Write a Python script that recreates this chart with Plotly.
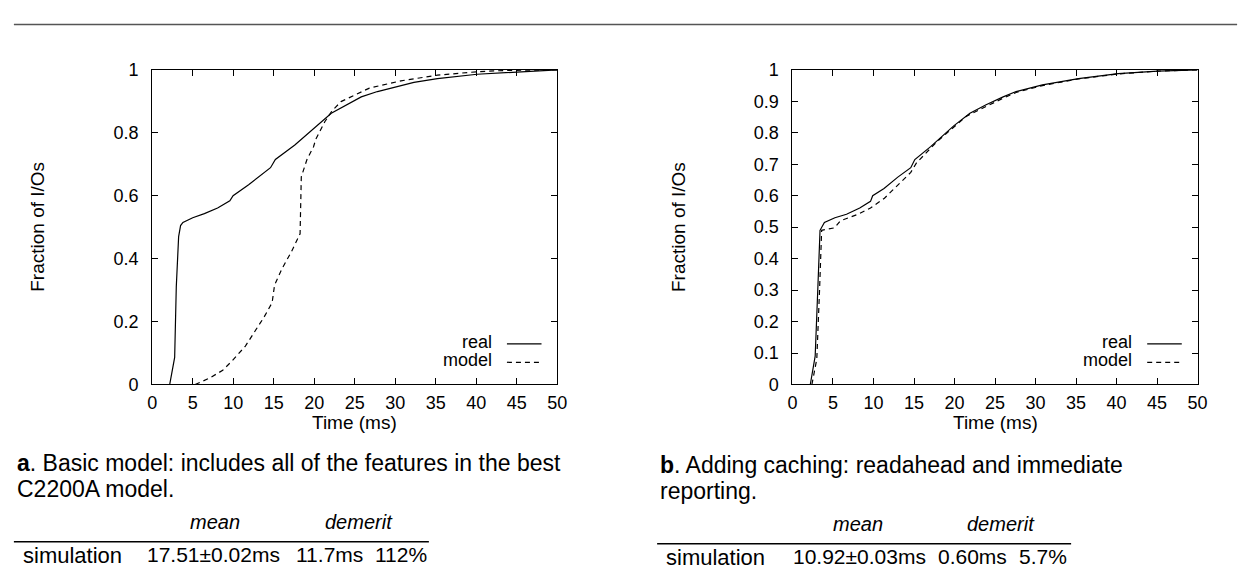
import plotly.graph_objects as go

W, H = 1256, 574

# ---- data ----
a_real_x = [2.16, 2.77, 2.97, 3.26, 3.5, 3.79, 5.0, 6.44, 8.07, 9.58, 9.98, 11.9, 14.6, 15.2, 17.6, 20.1, 22.1, 25.8, 27.8, 32.3, 35.2, 40.1, 45.1, 50]
a_real_y = [0, 0.086, 0.31, 0.47, 0.505, 0.515, 0.53, 0.543, 0.561, 0.584, 0.60, 0.635, 0.689, 0.715, 0.761, 0.817, 0.862, 0.914, 0.931, 0.96, 0.972, 0.986, 0.994, 1.0]
a_model_x = [5.3, 7.05, 8.7, 9.9, 11.5, 12.55, 13.8, 14.8, 15.1, 16.0, 17.2, 18.25, 18.4, 19.1, 19.9, 20.2, 21.3, 22.2, 23.3, 26.8, 30.7, 35.2, 40.1, 43.5, 50]
a_model_y = [0, 0.02, 0.045, 0.076, 0.122, 0.163, 0.214, 0.26, 0.316, 0.367, 0.423, 0.479, 0.66, 0.715, 0.755, 0.78, 0.835, 0.87, 0.899, 0.942, 0.965, 0.983, 0.994, 0.998, 1.0]

b_real_x = [2.2, 2.8, 3.13, 3.4, 3.94, 5.24, 6.67, 8.3, 9.63, 9.9, 11.3, 13.0, 14.6, 15.1, 17.05, 19.9, 21.9, 23.9, 26.0, 27.6, 30.85, 35.3, 40.2, 45.1, 50]
b_real_y = [0, 0.09, 0.306, 0.49, 0.515, 0.53, 0.541, 0.561, 0.582, 0.60, 0.623, 0.659, 0.689, 0.715, 0.756, 0.822, 0.862, 0.889, 0.914, 0.931, 0.952, 0.972, 0.988, 0.996, 1.0]
b_model_x = [2.4, 3.0, 3.35, 3.6, 5.2, 5.9, 8.1, 9.63, 11.35, 14.6, 15.3, 17.8, 21.5, 24.0, 26.0, 27.6, 30.85, 35.3, 40.2, 45.1, 50]
b_model_y = [0, 0.081, 0.306, 0.49, 0.498, 0.52, 0.541, 0.561, 0.592, 0.674, 0.704, 0.771, 0.853, 0.885, 0.91, 0.928, 0.95, 0.971, 0.987, 0.996, 1.0]

x_ticks = [0, 5, 10, 15, 20, 25, 30, 35, 40, 45, 50]
a_y_ticks = [0, 0.2, 0.4, 0.6, 0.8, 1]
a_y_labels = ["0", "0.2", "0.4", "0.6", "0.8", "1"]
b_y_ticks = [0, 0.1, 0.2, 0.3, 0.4, 0.5, 0.6, 0.7, 0.8, 0.9, 1]
b_y_labels = ["0", "0.1", "0.2", "0.3", "0.4", "0.5", "0.6", "0.7", "0.8", "0.9", "1"]

series_names = ["real", "model"]
x_title = "Time (ms)"
y_title = "Fraction of I/Os"
caption_a = ["<b>a</b>. Basic model: includes all of the features in the best", "C2200A model."]
caption_b = ["<b>b</b>. Adding caching: readahead and immediate", "reporting."]
table_headers = ["mean", "demerit"]
row_label = "simulation"
row_a = ["17.51±0.02ms", "11.7ms", "112%"]
row_b = ["10.92±0.03ms", "0.60ms", "5.7%"]

FONT = "Liberation Sans, Arial, sans-serif"
DASH = "5px,4px"


def px(x):
    return x / W


def py(y):
    return 1 - y / H


fig = go.Figure()
fig.add_trace(go.Scatter(x=a_real_x, y=a_real_y, mode="lines", line=dict(color="black", width=1.2),
                         xaxis="x", yaxis="y", showlegend=False, name=series_names[0]))
fig.add_trace(go.Scatter(x=a_model_x, y=a_model_y, mode="lines", line=dict(color="black", width=1.2, dash=DASH),
                         xaxis="x", yaxis="y", showlegend=False, name=series_names[1]))
fig.add_trace(go.Scatter(x=b_real_x, y=b_real_y, mode="lines", line=dict(color="black", width=1.2),
                         xaxis="x2", yaxis="y2", showlegend=False, name=series_names[0]))
fig.add_trace(go.Scatter(x=b_model_x, y=b_model_y, mode="lines", line=dict(color="black", width=1.2, dash=DASH),
                         xaxis="x2", yaxis="y2", showlegend=False, name=series_names[1]))

axis_common = dict(showgrid=False, zeroline=False, showline=True, linecolor="black", linewidth=1,
                   ticks="inside", ticklen=6, tickcolor="black", tickwidth=1, mirror="allticks",
                   tickfont=dict(family=FONT, size=18, color="black"))

left_dom = [px(149), px(559)]
right_dom = [px(797), px(1207)]
y_dom = [py(388), py(62)]

fig.update_layout(
    width=W, height=H,
    margin=dict(l=0, r=0, t=0, b=0),
    paper_bgcolor="white", plot_bgcolor="white",
    font=dict(family=FONT, color="black"),
    xaxis=dict(domain=left_dom, range=[0, 50], tickvals=x_ticks, anchor="y", ticklabelstandoff=2, **axis_common),
    yaxis=dict(domain=y_dom, range=[0, 1], tickvals=a_y_ticks, ticktext=a_y_labels, anchor="x", ticklabelstandoff=9, **axis_common),
    xaxis2=dict(domain=right_dom, range=[0, 50], tickvals=x_ticks, anchor="y2", ticklabelstandoff=2, **axis_common),
    yaxis2=dict(domain=y_dom, range=[0, 1], tickvals=b_y_ticks, ticktext=b_y_labels, anchor="x2", ticklabelstandoff=9, **axis_common),
)

ann = []
shapes = []


def text(t, x, y, size, anchor="left", angle=0):
    ann.append(dict(text=t, x=px(x), y=py(y), xref="paper", yref="paper", showarrow=False,
                    font=dict(size=size), xanchor=anchor, yanchor="middle", textangle=angle))


# top rule
shapes.append(dict(type="line", xref="paper", yref="paper", x0=px(9), x1=px(1247), y0=py(15), y1=py(15),
                   line=dict(color="#555555", width=1.5)))

for (dom_l, dom_r) in [(149, 559), (797, 1207)]:
    cx = (dom_l + dom_r) / 2
    text(x_title, cx, 427, 19, "center")
    text(y_title, dom_l - 116, 225, 19, "center", -90)
    # legend (text right aligned, sample on the right)
    for i, (nm, dash) in enumerate([(series_names[0], "solid"), (series_names[1], DASH)]):
        yy = 344 + 19 * i
        text(nm, dom_r - 64, yy, 18, "right")
        shapes.append(dict(type="line", xref="paper", yref="paper", x0=px(dom_r - 51), x1=px(dom_r - 16),
                           y0=py(yy + 2), y1=py(yy + 2), line=dict(color="black", width=1.2, dash=dash)))

# captions and tables
for (x0, cap, mean_x, dem_x, rule_x1, row, row_xs, dy) in [
        (10, caption_a, 213, 358, 429, row_a, [142, 292, 372], 0),
        (661, caption_b, 863, 1008, 1079, row_b, [796, 942, 1024], 2)]:
    text(cap[0], x0, 469 + dy, 23)
    text(cap[1], x0, 496 + dy, 23)
    text("<i>" + table_headers[0] + "</i>", mean_x, 531 + dy, 20, "center")
    text("<i>" + table_headers[1] + "</i>", dem_x, 531 + dy, 20, "center")
    shapes.append(dict(type="line", xref="paper", yref="paper", x0=px(x0 - 1), x1=px(rule_x1),
                       y0=py(551 + dy), y1=py(551 + dy), line=dict(color="black", width=1.5)))
    text(row_label, x0 + 6, 565 + dy, 22)
    for rx, rt in zip(row_xs, row):
        text(rt, rx, 564 + dy, 21)

fig.update_layout(annotations=ann, shapes=shapes)
fig.write_html("out.html", config={"displayModeBar": False},
               post_script="document.body.style.margin='0';document.body.style.overflow='hidden';")
